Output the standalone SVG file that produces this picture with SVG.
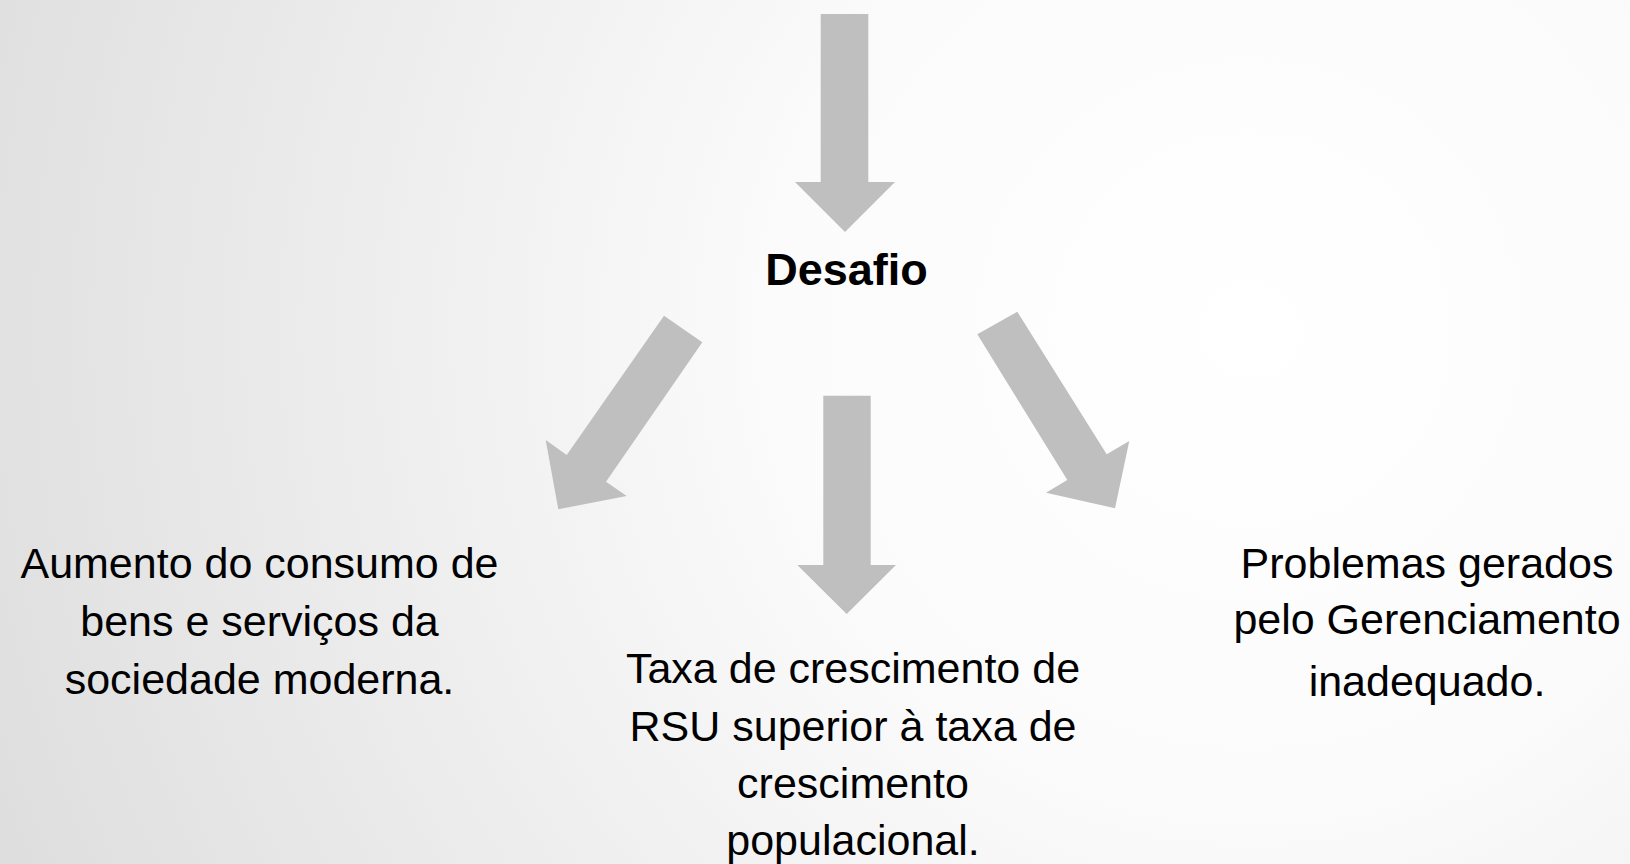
<svg xmlns="http://www.w3.org/2000/svg" width="1630" height="864" viewBox="0 0 1630 864">
  <defs>
    <radialGradient id="bg" gradientUnits="userSpaceOnUse" cx="1250" cy="330" r="1350">
      <stop offset="0" stop-color="#ffffff"/>
      <stop offset="0.35" stop-color="#fbfbfb"/>
      <stop offset="1" stop-color="#dedede"/>
    </radialGradient>
  </defs>
  <style>
    .arrow { fill: #bfbfbf; stroke: none; }
    .lbl { font-family: "Liberation Sans", Arial, sans-serif; font-size: 43px; fill: #000000; text-anchor: middle; }
    .title { font-family: "Liberation Sans", Arial, sans-serif; font-size: 45px; font-weight: bold; fill: #000000; text-anchor: middle; }
  </style>
  <rect x="0" y="0" width="1630" height="864" fill="url(#bg)"/>

  <g id="connectors">
    <polygon class="arrow" points="820.7,14 868.3,14 868.3,182 895,182 845,232 795,182 820.7,182"/>
    <polygon class="arrow" points="664,315.7 702.3,342.3 606,481.7 626.7,496 558.3,509.3 545.7,440 566.7,455"/>
    <polygon class="arrow" points="823.3,395.7 870.7,395.7 870.7,565 896,565 846.7,614 797.3,565 823.3,565"/>
    <polygon class="arrow" points="977.3,334.3 1017.3,311.7 1106.7,454.3 1129.3,441 1115,508.3 1046,492.7 1067.3,480"/>
  </g>

  <g id="node-desafio">
    <text class="title" x="846.5" y="285">Desafio</text>
  </g>

  <g id="node-aumento">
    <text class="lbl" x="259.5" y="578">Aumento do consumo de</text>
    <text class="lbl" x="259.5" y="636">bens e serviços da</text>
    <text class="lbl" x="259.5" y="694">sociedade moderna.</text>
  </g>

  <g id="node-taxa">
    <text class="lbl" x="853" y="683">Taxa de crescimento de</text>
    <text class="lbl" x="853" y="741">RSU superior à taxa de</text>
    <text class="lbl" x="853" y="798">crescimento</text>
    <text class="lbl" x="853" y="855">populacional.</text>
  </g>

  <g id="node-problemas">
    <text class="lbl" x="1427" y="578">Problemas gerados</text>
    <text class="lbl" x="1427" y="634">pelo Gerenciamento</text>
    <text class="lbl" x="1427" y="696">inadequado.</text>
  </g>
</svg>
